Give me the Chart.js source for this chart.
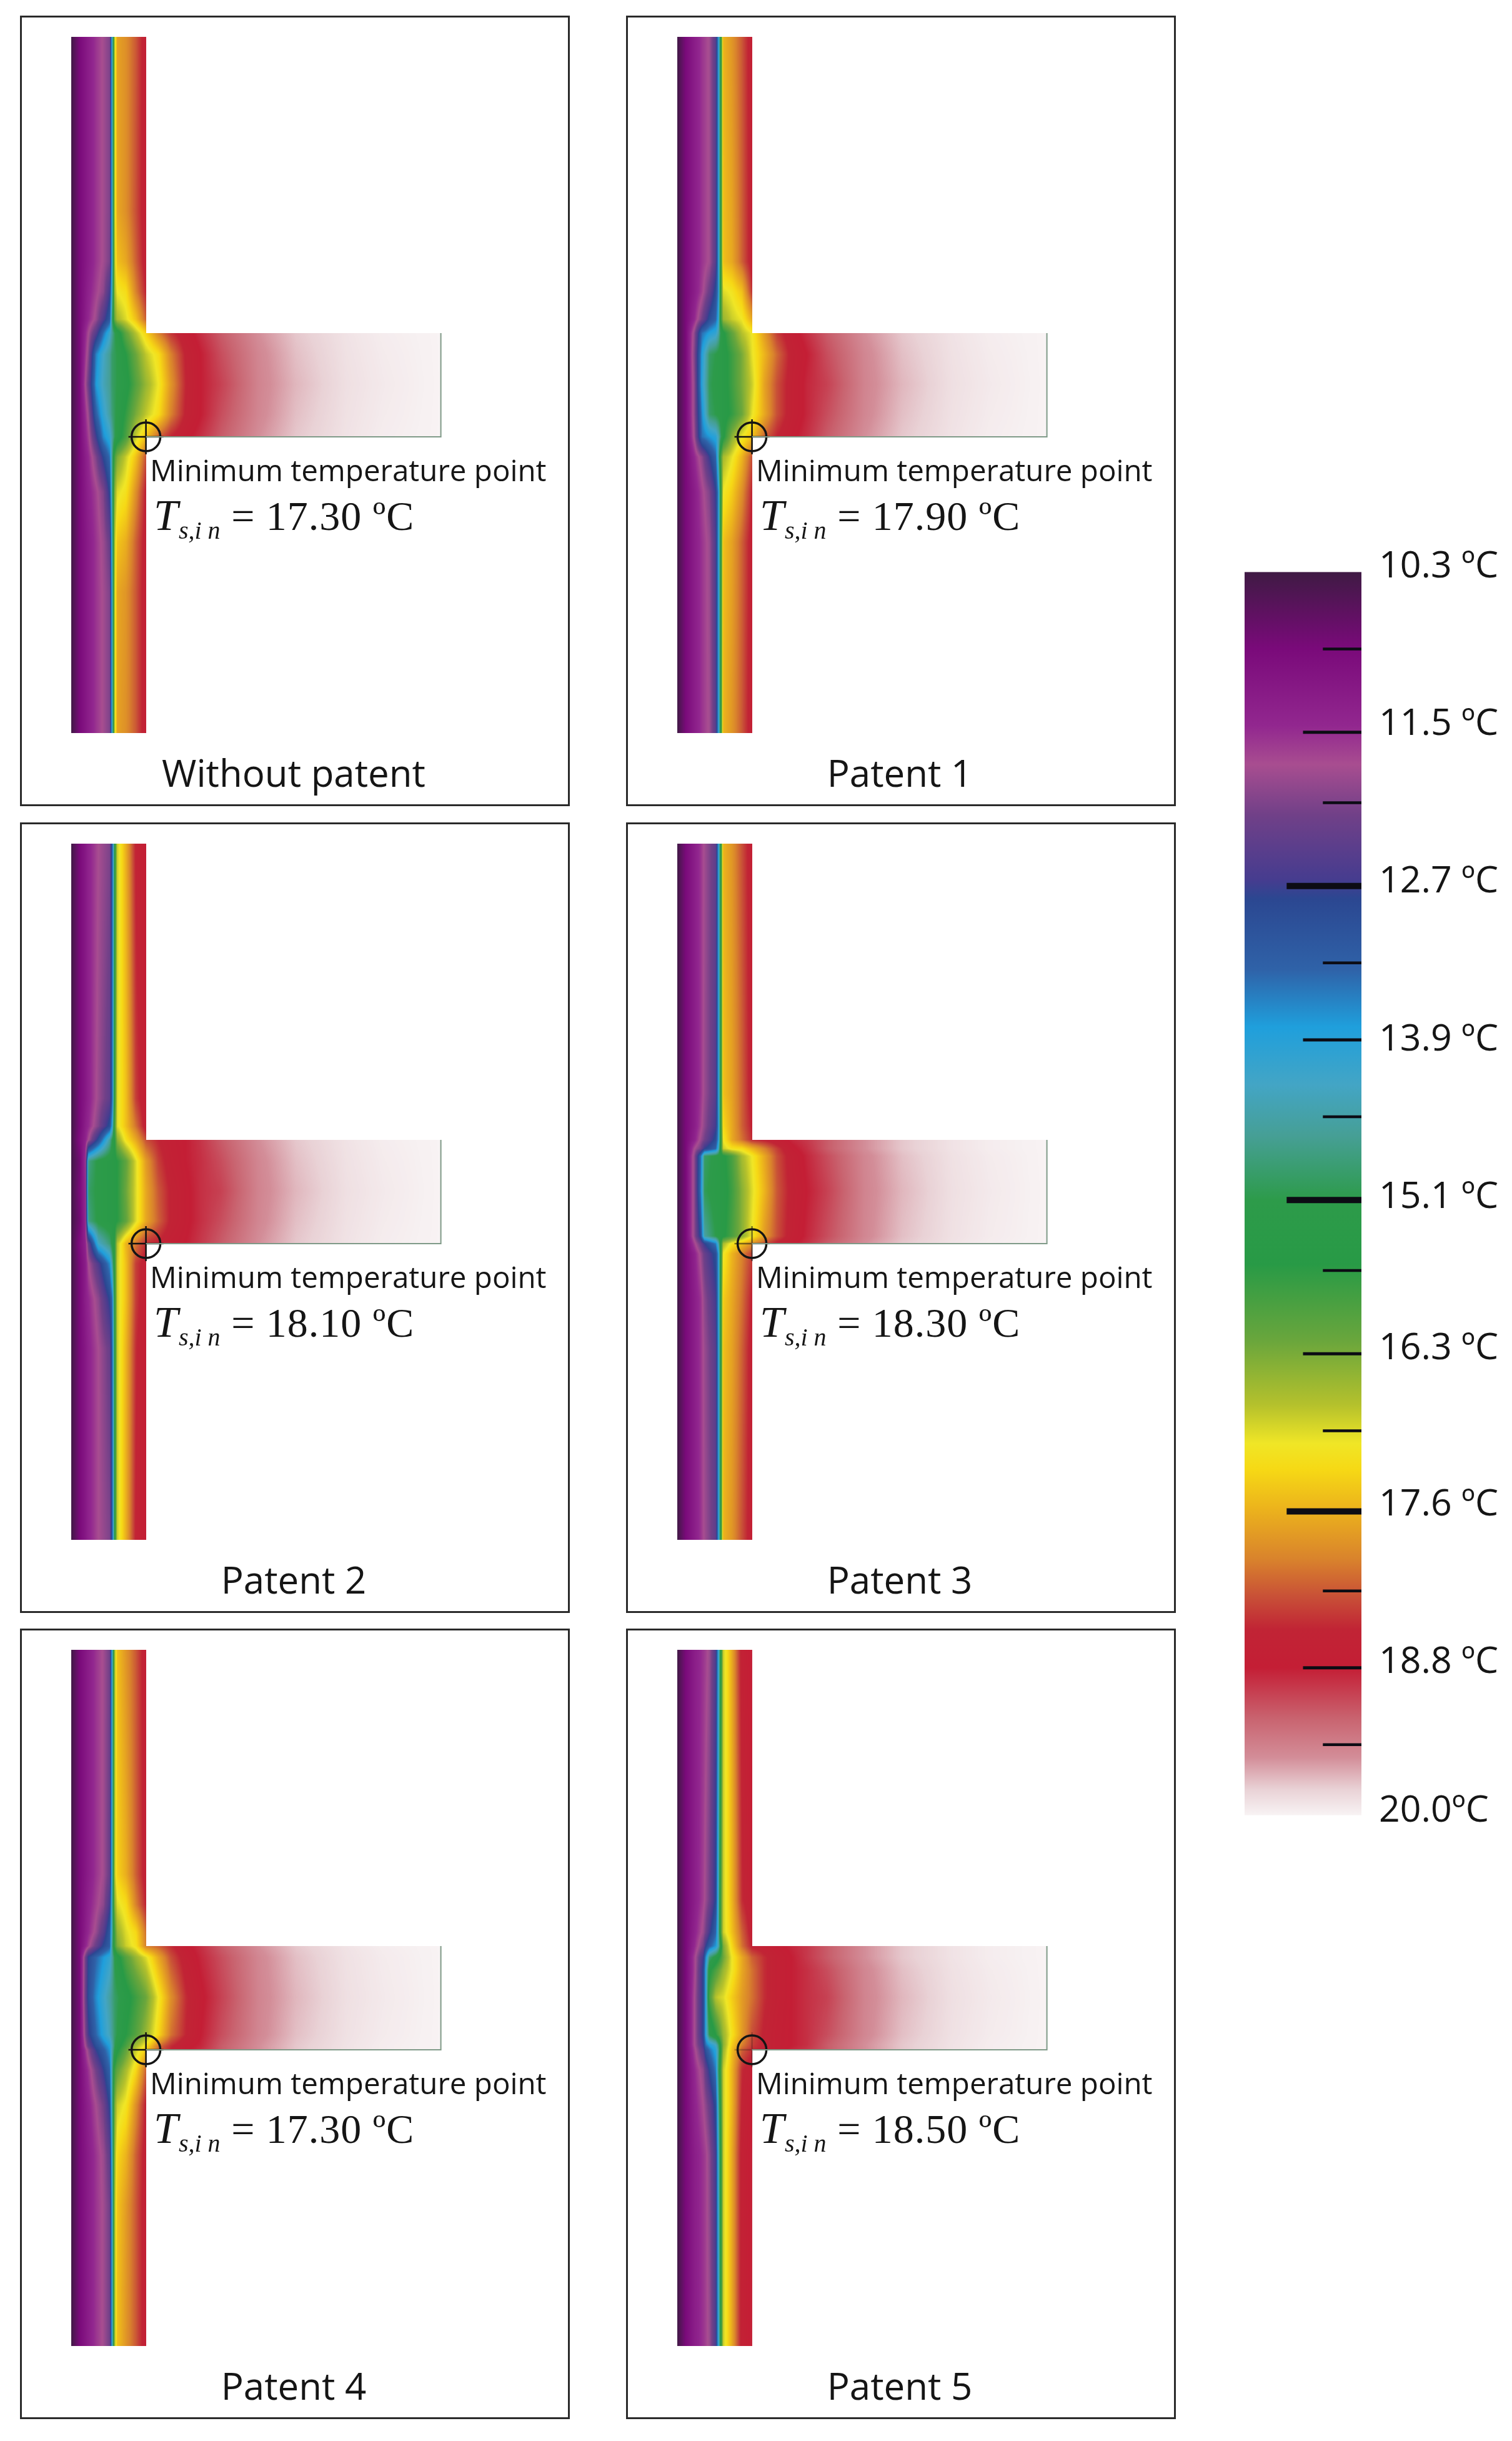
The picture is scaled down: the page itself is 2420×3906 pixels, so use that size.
<!DOCTYPE html>
<html>
<head>
<meta charset="utf-8">
<title>Surface temperature at the floor junction</title>
<script src="https://cdn.jsdelivr.net/npm/chart.js@4"></script>
<style>
    html, body { margin: 0; background: #fff; }
    #page { position: relative; width: 2420px; height: 3906px; overflow: hidden; }
    .box { position: absolute; box-sizing: border-box; width: 880px; height: 1265px; border: 3px solid #2a2a2a; }
    .box canvas { position: absolute; left: -3px; top: -3px; }
    .note, .title, .formula { position: absolute; white-space: nowrap; color: #151515; }
    .note { left: 205px; top: 700px; font: 47.5px/1 "Open Sans", sans-serif; }
    .title { left: -5px; width: 880px; top: 1178px; text-align: center; font: 60px/1 "Open Sans", sans-serif; }
    .formula { left: 211px; top: 762px; font: 66px/1 "Liberation Serif", serif; letter-spacing: 1px; }
    .formula i { font-size: 70px; }
    .formula sub { font-size: 40px; font-style: italic; line-height: 0; vertical-align: -14px; letter-spacing: 0; }
    #scale { position: absolute; left: 1992px; top: 860px; }
</style>
</head>
<body>
<div id="page"><canvas id="scale" width="428" height="2100"></canvas></div>
<script>
// --- colour scale (degrees C, top of the bar to the bottom) ---
const colorTemps = [10.3, 10.9, 11.5, 11.8, 12.2, 12.7, 12.85, 13.4, 13.85, 14.3, 14.7, 15.2, 15.7, 16.3, 16.8, 17.1, 17.3, 17.6, 18.0, 18.3, 18.55, 18.85, 19.25, 19.55, 19.8, 20.0];
const colorHex = ['#3f1a44', '#7a0a7a', '#92278f', '#a84d90', '#704088', '#463c8f', '#2b4791', '#2f62a8', '#1f9fdc', '#43a5c5', '#469f95', '#2d9b4a', '#289a46', '#6aa63c', '#b5c12c', '#f0e626', '#f6d915', '#ecb41c', '#d9832c', '#c84f37', '#c12435', '#c41e35', '#c96470', '#d38d98', '#e9d2d6', '#f8f3f4'];
// where each label sits against the bar
const labelTemps = [10.24, 11.47, 12.7, 13.93, 15.16, 16.34, 17.56, 18.79, 19.95];
const labelTexts = ['10.3 ºC', '11.5 ºC', '12.7 ºC', '13.9 ºC', '15.1 ºC', '16.3 ºC', '17.6 ºC', '18.8 ºC', '20.0ºC'];
const minorTicks = [10.9, 12.1, 13.35, 14.55, 15.75, 17.0, 18.25, 19.45];
const middleTicks = [11.55, 13.95, 16.4, 18.85];
const majorTicks = [12.75, 15.2, 17.63];

// --- stations in cm: x from the outer wall face, y from the underside of the floor ---
const finNearX = [35, 40, 46, 52];
const finTailX = [60, 75, 90, 110, 125, 148];
const finTailEdge = [19.2, 19.55, 19.76, 19.9, 19.96, 20.0];
const finTailNear = [19.12, 19.5, 19.73, 19.89, 19.95, 20.0];
const finTailMid = [19.05, 19.48, 19.7, 19.88, 19.94, 20.0];
const minPoint = { x: 30, y: 0 };

// --- Without patent ---
const noPatentX = [0, 3.5, 7, 10, 13, 15.5, 16.5, 17.5, 18.5, 22, 26, 30];
const noPatentY = [160, 90, 70, 58, 47, 41.5, 33, 21, 9, 0, -8, -22, -42, -62, -118.5];
const noPatentT = [
    [10.3, 10.9, 11.3, 11.6, 11.85, 12.1, 14.3, 16.9, 17.75, 17.9, 18.25, 18.75],
    [10.3, 10.9, 11.3, 11.6, 11.85, 12.1, 14.3, 16.9, 17.7, 17.9, 18.3, 18.75],
    [10.3, 10.9, 11.3, 11.6, 11.85, 12.15, 14.3, 16.8, 17.5, 17.7, 18.2, 18.7],
    [10.3, 10.9, 11.4, 11.7, 12.0, 12.7, 14.5, 16.7, 17.1, 17.25, 18.0, 18.55],
    [10.3, 10.9, 11.5, 11.9, 12.6, 13.2, 15.0, 16.3, 16.7, 17.0, 17.5, 18.2],
    [10.3, 10.9, 11.8, 12.5, 13.5, 14.2, 14.7, 15.1, 15.4, 16.2, 16.8, 17.35, 18.0, 18.45, 18.75, 18.95, ...finTailEdge],
    [10.3, 10.9, 12.0, 13.6, 14.3, 14.7, 15.0, 15.1, 15.2, 15.7, 16.3, 16.85, 17.25, 18.0, 18.6, 18.85, ...finTailNear],
    [10.3, 10.9, 12.3, 13.8, 14.4, 14.7, 15.0, 15.1, 15.2, 15.5, 16.1, 16.6, 17.1, 17.85, 18.55, 18.85, ...finTailMid],
    [10.3, 10.9, 11.9, 13.3, 14.1, 14.6, 14.9, 15.1, 15.3, 15.8, 16.4, 16.85, 17.25, 18.0, 18.6, 18.85, ...finTailNear],
    [10.3, 10.9, 11.7, 12.7, 13.7, 14.1, 14.6, 15.1, 15.4, 16.0, 16.9, 17.5, 18.2, 18.55, 18.8, 18.95, ...finTailEdge],
    [10.3, 10.9, 11.5, 12.1, 12.9, 13.5, 14.8, 16.0, 16.4, 16.9, 17.5, 18.3],
    [10.3, 10.9, 11.4, 11.7, 12.1, 12.9, 14.8, 16.5, 17.0, 17.2, 17.9, 18.6],
    [10.3, 10.9, 11.3, 11.6, 11.9, 12.3, 14.5, 16.8, 17.45, 17.65, 18.2, 18.7],
    [10.3, 10.9, 11.3, 11.6, 11.85, 12.1, 14.3, 16.9, 17.7, 17.85, 18.25, 18.75],
    [10.3, 10.9, 11.3, 11.6, 11.85, 12.1, 14.3, 16.9, 17.75, 17.9, 18.25, 18.75]
];

// --- Patent 1 ---
const patent1X = [0, 3.5, 7, 10, 13, 15.5, 16.5, 17.5, 18.5, 22, 26, 30];
const patent1Y = [160, 70, 58, 47, 41.5, 33, 21, 9, 0, -8, -22, -42, -118.5];
const patent1T = [
    [10.3, 10.9, 11.3, 11.6, 11.85, 12.5, 13.8, 15.5, 17.6, 17.85, 18.25, 18.75],
    [10.3, 10.9, 11.3, 11.6, 11.85, 12.5, 13.8, 15.5, 17.5, 17.7, 18.2, 18.7],
    [10.3, 10.9, 11.3, 11.7, 12.3, 13.0, 13.7, 15.8, 17.0, 17.15, 17.5, 18.45],
    [10.3, 10.9, 11.5, 12.2, 13.0, 13.4, 14.0, 15.8, 16.6, 16.9, 17.1, 17.7],
    [10.3, 10.9, 12.0, 13.5, 13.9, 14.1, 14.5, 15.2, 15.6, 16.2, 16.8, 17.1, 17.8, 18.4, 18.75, 18.95, ...finTailEdge],
    [10.3, 10.9, 12.1, 13.9, 15.0, 15.2, 15.3, 15.4, 15.5, 15.9, 16.4, 17.05, 17.6, 18.15, 18.65, 18.85, ...finTailNear],
    [10.3, 10.9, 12.0, 14.0, 15.1, 15.3, 15.4, 15.4, 15.5, 15.9, 16.4, 16.9, 17.75, 18.3, 18.7, 18.9, ...finTailMid],
    [10.3, 10.9, 12.0, 13.7, 15.0, 15.2, 15.3, 15.4, 15.5, 15.8, 16.3, 17.05, 17.7, 18.3, 18.7, 18.9, ...finTailNear],
    [10.3, 10.9, 11.9, 13.5, 13.8, 14.0, 14.4, 15.0, 15.6, 16.5, 17.1, 17.5, 18.2, 18.55, 18.8, 18.95, ...finTailEdge],
    [10.3, 10.9, 11.5, 12.0, 12.8, 13.4, 14.5, 16.0, 16.7, 17.05, 17.6, 18.3],
    [10.3, 10.9, 11.3, 11.7, 12.1, 12.8, 13.7, 15.6, 17.1, 17.4, 17.9, 18.55],
    [10.3, 10.9, 11.3, 11.6, 11.9, 12.6, 13.8, 15.5, 17.5, 17.75, 18.2, 18.7],
    [10.3, 10.9, 11.3, 11.6, 11.85, 12.5, 13.8, 15.5, 17.6, 17.85, 18.25, 18.75]
];

// --- Patent 2 ---
const patent2X = [0, 3.5, 5.75, 7, 11, 15.5, 16.5, 17.5, 18.5, 22, 26, 30];
const patent2Y = [160, 58, 47, 41.5, 33, 21, 9, 0, -8, -22, -42, -118.5];
const patent2T = [
    [10.3, 10.9, 11.2, 11.4, 11.8, 12.1, 13.2, 15.5, 16.9, 17.65, 18.6, 18.85],
    [10.3, 10.9, 11.2, 11.4, 11.9, 12.4, 13.4, 15.8, 17.0, 17.5, 18.4, 18.8],
    [10.3, 10.9, 11.3, 11.5, 12.1, 13.0, 14.0, 16.0, 17.0, 17.5, 18.1, 18.7],
    [10.3, 11.0, 11.4, 11.8, 13.0, 14.6, 15.2, 15.7, 16.5, 17.2, 17.7, 18.3, 18.55, 18.75, 18.85, 18.98, ...finTailEdge],
    [10.3, 10.8, 11.6, 14.8, 15.3, 15.5, 15.5, 15.6, 15.7, 16.2, 17.0, 17.8, 18.4, 18.7, 18.85, 18.95, ...finTailNear],
    [10.3, 10.9, 11.5, 15.0, 15.3, 15.5, 15.5, 15.6, 15.7, 16.3, 17.0, 17.7, 18.25, 18.6, 18.8, 18.95, ...finTailMid],
    [10.3, 10.8, 11.5, 14.8, 15.3, 15.5, 15.5, 15.6, 15.7, 16.2, 17.0, 17.7, 18.2, 18.6, 18.8, 18.95, ...finTailNear],
    [10.3, 11.0, 11.4, 12.3, 14.3, 14.9, 15.3, 15.8, 16.8, 17.6, 18.1, 18.5, 18.6, 18.75, 18.85, 19.0, ...finTailEdge],
    [10.3, 10.9, 11.3, 11.8, 12.6, 13.7, 14.6, 15.8, 16.9, 17.5, 18.4, 18.7],
    [10.3, 10.9, 11.3, 11.5, 12.0, 12.9, 13.5, 15.6, 16.9, 17.5, 18.4, 18.8],
    [10.3, 10.9, 11.2, 11.4, 11.8, 12.3, 13.3, 15.5, 16.9, 17.6, 18.5, 18.85],
    [10.3, 10.9, 11.2, 11.4, 11.8, 12.1, 13.2, 15.5, 16.9, 17.65, 18.6, 18.85]
];

// --- Patent 3 ---
const patent3X = [0, 3.5, 7, 9.5, 11, 15.5, 16.5, 17.5, 18.5, 22, 26, 30];
const patent3Y = [160, 60, 47, 41.5, 38, 35, 21, 3, 0, -4, -22, -42, -118.5];
const patent3T = [
    [10.3, 10.9, 11.3, 11.6, 11.85, 12.4, 13.8, 15.5, 17.6, 17.85, 18.3, 18.75],
    [10.3, 10.9, 11.3, 11.6, 11.9, 12.5, 13.8, 15.5, 17.5, 17.75, 18.2, 18.7],
    [10.3, 10.9, 11.3, 11.7, 12.0, 12.7, 13.7, 15.6, 17.3, 17.7, 18.2, 18.6],
    [10.3, 10.9, 11.4, 11.9, 12.2, 13.0, 13.8, 15.6, 17.1, 17.7, 18.1, 18.5, 18.6, 18.75, 18.9, 19.0, ...finTailEdge],
    [10.3, 10.9, 11.8, 12.2, 12.8, 13.4, 14.2, 15.7, 16.9, 17.2, 17.25, 17.6, 18.0, 18.4, 18.8, 18.95, ...finTailEdge],
    [10.3, 10.9, 12.0, 13.5, 15.0, 15.3, 15.4, 15.5, 15.6, 16.0, 16.7, 17.1, 17.7, 18.3, 18.7, 18.9, ...finTailNear],
    [10.3, 10.9, 12.0, 13.6, 15.1, 15.4, 15.4, 15.5, 15.5, 15.9, 16.5, 17.0, 17.6, 18.25, 18.65, 18.85, ...finTailMid],
    [10.3, 10.9, 12.0, 13.0, 14.6, 15.2, 15.4, 15.5, 15.6, 16.0, 16.5, 17.1, 17.8, 18.3, 18.7, 18.9, ...finTailNear],
    [10.3, 10.9, 11.7, 12.3, 12.8, 13.6, 14.4, 15.6, 16.7, 17.2, 17.5, 17.9, 18.3, 18.6, 18.8, 18.95, ...finTailEdge],
    [10.3, 10.9, 11.4, 11.9, 12.3, 13.0, 13.8, 15.6, 17.1, 17.6, 18.0, 18.4],
    [10.3, 10.9, 11.3, 11.6, 12.0, 12.7, 13.8, 15.6, 17.4, 17.7, 18.1, 18.6],
    [10.3, 10.9, 11.3, 11.6, 11.9, 12.5, 13.8, 15.5, 17.5, 17.75, 18.2, 18.7],
    [10.3, 10.9, 11.3, 11.6, 11.85, 12.4, 13.8, 15.5, 17.6, 17.85, 18.3, 18.75]
];

// --- Patent 4 ---
const patent4X = [0, 3.5, 7, 10, 13, 15.5, 16.5, 17.5, 18.5, 22, 26, 30];
const patent4Y = [160, 70, 58, 47, 41.5, 37, 21, 6, 1.5, 0, -8, -22, -42, -62, -118.5];
const patent4T = [
    [10.3, 10.9, 11.3, 11.6, 11.85, 12.2, 14.2, 16.7, 17.5, 17.85, 18.25, 18.75],
    [10.3, 10.9, 11.3, 11.6, 11.85, 12.3, 14.4, 16.8, 17.35, 17.65, 18.2, 18.7],
    [10.3, 10.9, 11.4, 11.7, 12.0, 12.7, 14.6, 16.5, 17.0, 17.25, 18.0, 18.55],
    [10.3, 10.9, 11.5, 11.9, 12.5, 13.2, 14.6, 16.0, 16.6, 17.0, 17.3, 18.1],
    [10.3, 10.9, 11.7, 12.3, 12.9, 13.3, 14.8, 15.9, 16.4, 16.9, 17.2, 18.0, 18.2, 18.5, 18.8, 18.95, ...finTailEdge],
    [10.3, 10.9, 12.9, 13.4, 13.8, 14.1, 14.6, 15.2, 15.5, 16.1, 16.6, 17.0, 17.7, 18.3, 18.7, 18.9, ...finTailNear],
    [10.3, 10.9, 13.0, 13.7, 14.2, 14.6, 14.8, 15.0, 15.1, 15.5, 15.9, 16.3, 17.1, 17.9, 18.5, 18.8, ...finTailMid],
    [10.3, 10.9, 12.7, 13.4, 14.0, 14.4, 14.7, 15.0, 15.2, 15.7, 16.1, 16.6, 17.3, 18.1, 18.55, 18.85, ...finTailNear],
    [10.3, 10.9, 12.3, 13.0, 13.5, 13.9, 14.5, 15.1, 15.5, 16.0, 16.7, 17.2, 18.1, 18.5, 18.8, 18.9, ...finTailEdge],
    [10.3, 10.9, 12.0, 12.8, 13.3, 13.8, 14.6, 15.2, 15.6, 16.2, 16.9, 17.4, 18.2, 18.55, 18.8, 18.95, ...finTailEdge],
    [10.3, 10.9, 11.6, 12.2, 12.8, 13.4, 14.7, 15.9, 16.2, 16.7, 17.3, 18.2],
    [10.3, 10.9, 11.4, 11.8, 12.2, 12.9, 14.7, 16.4, 16.9, 17.15, 17.9, 18.6],
    [10.3, 10.9, 11.3, 11.6, 11.9, 12.4, 14.4, 16.6, 17.3, 17.6, 18.2, 18.7],
    [10.3, 10.9, 11.3, 11.6, 11.85, 12.2, 14.2, 16.7, 17.45, 17.8, 18.25, 18.75],
    [10.3, 10.9, 11.3, 11.6, 11.85, 12.2, 14.2, 16.7, 17.5, 17.85, 18.25, 18.75]
];

// --- Patent 5 ---
const patent5X = [0, 3.5, 7, 10.5, 11.5, 13, 15.5, 16.5, 17.5, 18.5, 22, 26, 30];
const patent5Y = [160, 60, 47, 41.5, 37, 32, 21, 6, 2, 0, -8, -22, -42, -118.5];
const patent5T = [
    [10.3, 10.9, 11.3, 11.6, 11.7, 11.9, 12.6, 14.0, 15.5, 16.9, 17.7, 18.7, 18.9],
    [10.3, 10.9, 11.3, 11.7, 11.9, 12.2, 12.9, 14.3, 16.0, 16.9, 17.6, 18.5, 18.8],
    [10.3, 10.9, 11.4, 11.9, 12.2, 12.7, 13.4, 14.4, 16.0, 16.9, 17.5, 18.2, 18.7],
    [10.3, 10.9, 11.5, 12.2, 12.8, 13.3, 13.8, 14.4, 15.4, 16.4, 17.3, 18.1, 18.6, 18.7, 18.8, 18.9, 19.0, ...finTailEdge],
    [10.3, 10.9, 11.7, 12.7, 13.7, 14.9, 15.4, 15.6, 15.9, 16.3, 17.1, 17.7, 18.2, 18.5, 18.7, 18.85, 19.0, ...finTailEdge],
    [10.3, 10.9, 11.7, 12.9, 14.0, 15.6, 16.0, 16.2, 16.4, 16.6, 17.1, 17.7, 18.1, 18.5, 18.7, 18.85, 18.95, ...finTailNear],
    [10.3, 10.9, 11.8, 12.9, 14.0, 16.0, 16.8, 16.9, 16.95, 17.0, 17.4, 17.8, 18.1, 18.5, 18.7, 18.85, 18.95, ...finTailMid],
    [10.3, 10.9, 11.8, 12.9, 14.0, 15.2, 15.7, 16.0, 16.3, 16.6, 17.2, 17.8, 18.3, 18.6, 18.75, 18.85, 18.95, ...finTailNear],
    [10.3, 10.9, 11.8, 12.7, 13.5, 13.9, 14.3, 14.9, 15.8, 16.5, 17.4, 18.0, 18.4, 18.6, 18.75, 18.85, 18.95, ...finTailEdge],
    [10.3, 10.9, 11.7, 12.5, 13.1, 13.5, 14.0, 14.7, 15.7, 16.6, 17.5, 18.2, 18.5, 18.6, 18.75, 18.9, 19.0, ...finTailEdge],
    [10.3, 10.9, 11.5, 12.0, 12.4, 12.9, 13.6, 14.9, 16.0, 16.9, 17.6, 18.5, 18.75],
    [10.3, 10.9, 11.4, 11.8, 12.0, 12.3, 13.0, 14.5, 15.8, 16.9, 17.6, 18.6, 18.85],
    [10.3, 10.9, 11.3, 11.6, 11.7, 12.0, 12.7, 14.2, 15.6, 16.9, 17.7, 18.7, 18.9],
    [10.3, 10.9, 11.3, 11.6, 11.7, 11.9, 12.6, 14.0, 15.5, 16.9, 17.7, 18.7, 18.9]
];

const panelTitles = ['Without patent', 'Patent 1', 'Patent 2', 'Patent 3', 'Patent 4', 'Patent 5'];
const minTemps = ['17.30', '17.90', '18.10', '18.30', '17.30', '18.50'];
const panelX = [noPatentX, patent1X, patent2X, patent3X, patent4X, patent5X];
const panelY = [noPatentY, patent1Y, patent2Y, patent3Y, patent4Y, patent5Y];
const panelT = [noPatentT, patent1T, patent2T, patent3T, patent4T, patent5T];
const crossColors = ['#111', '#111', '#111', 'rgba(20,20,20,0.55)', '#111', 'rgba(20,20,20,0.25)'];

// layout of the page
const boxLefts = [32, 1002];
const boxTops = [25, 1316, 2606];

function hexToRgb(hex) {
    return [1, 3, 5].map(i => parseInt(hex.slice(i, i + 2), 16));
}

// lookup table so the field does not search the stops for every pixel
const lutSize = 1940;
const colorLut = [];
for (let i = 0; i < lutSize; i++) {
    const t = colorTemps[0] + (colorTemps[colorTemps.length - 1] - colorTemps[0]) * i / (lutSize - 1);
    let k = 0;
    while (k < colorTemps.length - 2 && t > colorTemps[k + 1]) k++;
    const f = (t - colorTemps[k]) / (colorTemps[k + 1] - colorTemps[k]);
    const a = hexToRgb(colorHex[k]);
    const b = hexToRgb(colorHex[k + 1]);
    colorLut.push([a[0] + (b[0] - a[0]) * f, a[1] + (b[1] - a[1]) * f, a[2] + (b[2] - a[2]) * f]);
}

function tempToRgb(t) {
    const s = (t - colorTemps[0]) / (colorTemps[colorTemps.length - 1] - colorTemps[0]);
    return colorLut[Math.max(0, Math.min(lutSize - 1, Math.round(s * (lutSize - 1))))];
}

// Paints dataset 0 (grid nodes with a temperature) using the node pixels the scales gave
const heatFieldPlugin = {
    id: 'heatField',
    beforeDatasetsDraw(chart) {
        const ds = chart.data.datasets[0];
        const points = chart.getDatasetMeta(0).data;
        const nx = ds.gridColumns;
        const ny = points.length / nx;
        const xPx = [];
        const yPx = [];
        for (let i = 0; i < nx; i++) xPx.push(points[i].x);
        for (let j = 0; j < ny; j++) yPx.push(points[j * nx].y);

        const image = chart.ctx.createImageData(chart.width, chart.height);
        for (let j = 0; j < ny - 1; j++) {
            for (let i = 0; i < nx - 1; i++) {
                const t00 = ds.data[j * nx + i].t;
                const t10 = ds.data[j * nx + i + 1].t;
                const t01 = ds.data[(j + 1) * nx + i].t;
                const t11 = ds.data[(j + 1) * nx + i + 1].t;
                if (t00 == null || t10 == null || t01 == null || t11 == null) continue;
                for (let py = Math.round(yPx[j]); py < Math.round(yPx[j + 1]); py++) {
                    const v = (py + 0.5 - yPx[j]) / (yPx[j + 1] - yPx[j]);
                    for (let px = Math.round(xPx[i]); px < Math.round(xPx[i + 1]); px++) {
                        const u = (px + 0.5 - xPx[i]) / (xPx[i + 1] - xPx[i]);
                        const t = (t00 * (1 - u) + t10 * u) * (1 - v) + (t01 * (1 - u) + t11 * u) * v;
                        const rgb = tempToRgb(t);
                        const o = (py * chart.width + px) * 4;
                        image.data[o] = rgb[0];
                        image.data[o + 1] = rgb[1];
                        image.data[o + 2] = rgb[2];
                        image.data[o + 3] = 255;
                    }
                }
            }
        }
        chart.ctx.putImageData(image, 0, 0);
    }
};

// Gradient of the colour bar, placed by the temperature axis
const colorBarPlugin = {
    id: 'colorBar',
    beforeDatasetsDraw(chart) {
        const y = chart.scales.y;
        const area = chart.chartArea;
        const top = y.getPixelForValue(colorTemps[0]);
        const bottom = y.getPixelForValue(colorTemps[colorTemps.length - 1]);
        const gradient = chart.ctx.createLinearGradient(0, top, 0, bottom);
        colorTemps.forEach((t, i) => {
            gradient.addColorStop((y.getPixelForValue(t) - top) / (bottom - top), colorHex[i]);
        });
        chart.ctx.fillStyle = gradient;
        chart.ctx.fillRect(area.left, top, area.right - area.left, bottom - top);
    }
};

function buildNodes(wallX, rowsY, rowsT) {
    const xs = wallX.concat(finNearX, finTailX);
    const nodes = [];
    rowsY.forEach((y, j) => {
        xs.forEach((x, i) => {
            const t = rowsT[j][i];
            nodes.push({ x: x, y: y, t: t === undefined ? null : t });
        });
    });
    return { nodes: nodes, columns: xs.length };
}

function drawPanel(index) {
    const box = document.createElement('div');
    box.className = 'box';
    box.style.left = boxLefts[index % 2] + 'px';
    box.style.top = boxTops[Math.floor(index / 2)] + 'px';
    box.innerHTML = `
        <canvas width="880" height="1265"></canvas>
        <div class="note">Minimum temperature point</div>
        <div class="formula"><i>T</i><sub>s,i n</sub> = ${minTemps[index]} ºC</div>
        <div class="title">${panelTitles[index]}</div>
    `;
    document.getElementById('page').appendChild(box);

    const field = buildNodes(panelX[index], panelY[index], panelT[index]);
    new Chart(box.querySelector('canvas'), {
        type: 'scatter',
        data: {
            datasets: [
                { label: 'Temperature', data: field.nodes, gridColumns: field.columns, pointRadius: 0 },
                {
                    label: 'Floor edge',
                    data: [{ x: 148, y: 41.5 }, { x: 148, y: 0 }, { x: 30, y: 0 }],
                    showLine: true, pointRadius: 0, borderColor: '#7f9a88', borderWidth: 2
                },
                {
                    label: 'Minimum temperature point',
                    data: [minPoint],
                    pointStyle: 'circle', pointRadius: 23, pointBorderWidth: 3.5,
                    pointBorderColor: '#151515', pointBackgroundColor: 'rgba(0,0,0,0)'
                },
                {
                    label: 'Crosshair',
                    data: [minPoint],
                    pointStyle: 'cross', pointRadius: 28, pointBorderWidth: 2.5,
                    pointBorderColor: crossColors[index]
                }
            ]
        },
        options: {
            animation: false,
            responsive: false,
            devicePixelRatio: 1,
            layout: { autoPadding: false },
            plugins: { legend: { display: false }, tooltip: { enabled: false } },
            scales: {
                x: { type: 'linear', display: false, min: -20.4, max: 199.6 },
                y: { type: 'linear', display: false, min: -147.75, max: 168.5 }
            }
        },
        plugins: [heatFieldPlugin]
    });
}

function tickSegments(temps, start) {
    const points = [];
    temps.forEach(t => {
        points.push({ x: start, y: t }, { x: 1, y: t }, { x: NaN, y: NaN });
    });
    return points;
}

function drawScale() {
    const tickLine = (label, data, width) => ({
        label: label, data: data, showLine: true, pointRadius: 0,
        borderColor: '#0c0c14', borderWidth: width, borderCapStyle: 'butt'
    });
    new Chart(document.getElementById('scale'), {
        type: 'scatter',
        data: {
            datasets: [
                tickLine('Minor ticks', tickSegments(minorTicks, 0.67), 4.5),
                tickLine('Middle ticks', tickSegments(middleTicks, 0.5), 5),
                tickLine('Major ticks', tickSegments(majorTicks, 0.36), 10)
            ]
        },
        options: {
            animation: false,
            responsive: false,
            devicePixelRatio: 1,
            layout: { autoPadding: false, padding: { top: 53, bottom: 46 } },
            plugins: { legend: { display: false }, tooltip: { enabled: false } },
            scales: {
                x: { type: 'linear', display: false, min: 0, max: 1 },
                y: {
                    type: 'linear',
                    position: 'right',
                    reverse: true,
                    min: colorTemps[0],
                    max: colorTemps[colorTemps.length - 1],
                    afterBuildTicks: axis => { axis.ticks = labelTemps.map(v => ({ value: v })); },
                    afterFit: axis => { axis.width = 241; },
                    border: { display: false },
                    grid: { display: false },
                    ticks: {
                        padding: 20,
                        labelOffset: 4,
                        color: '#151515',
                        font: { family: 'Open Sans', size: 59 },
                        callback: (value, index) => labelTexts[index]
                    }
                }
            }
        },
        plugins: [colorBarPlugin]
    });
}

panelTitles.forEach((title, index) => drawPanel(index));
drawScale();
</script>
</body>
</html>
